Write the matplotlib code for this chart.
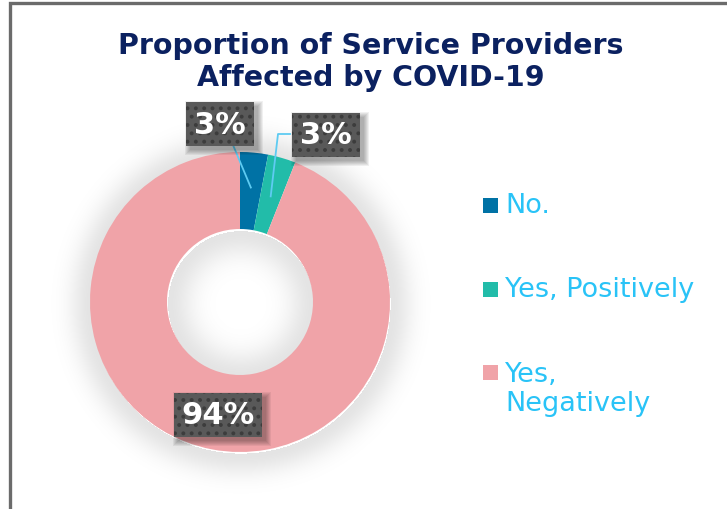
import matplotlib.pyplot as plt
import numpy as np
from matplotlib.patches import Rectangle

plt.rcParams["hatch.linewidth"] = 1.6

# data
categories = ["No.", "Yes, Positively", "Yes,\nNegatively"]
values = [3, 3, 94]
colors = ["#0072a5", "#22bca9", "#f0a3a8"]

W, H = 727, 510
fig = plt.figure(figsize=(W / 100, H / 100), dpi=100)
ax = fig.add_axes([0, 0, 1, 1])

cx, cy = 240, H - 303  # donut centre (pixel coords, y up)
R, r_in = 150, 73

# soft shadow around the ring and inside the hole
gx, gy = np.meshgrid(np.linspace(40, 440, 400), np.linspace(H - 500, H - 100, 400))
dist = np.hypot(gx - cx - 1, gy - cy + 2)
d_out = np.clip(dist - R, 0, None)
d_in = np.clip(r_in - dist, 0, None)
alpha = np.where(dist > R, 0.11 * np.exp(-(d_out / 22) ** 2), 0)
alpha = alpha + np.where(dist < r_in, 0.11 * np.exp(-(d_in / 26) ** 2), 0)
img = np.zeros((400, 400, 4))
img[..., 3] = alpha
ax.imshow(img, extent=(40, 440, H - 500, H - 100), origin="lower", zorder=0,
          interpolation="bilinear")

wedges, _ = ax.pie(values, colors=colors, startangle=90, counterclock=False,
                   radius=R, center=(cx, cy),
                   wedgeprops=dict(width=R - r_in, linewidth=0))
for w in wedges:
    w.set_zorder(2)

ax.set_xlim(0, W)
ax.set_ylim(0, H)
ax.set_aspect("equal")
ax.axis("off")

# data labels with leader lines
label_pos = [(220, H - 125), (326, H - 136), (218, H - 416)]
line_pts = [[(233, H - 146)], [(290, H - 135), (278, H - 135)], None]
cum = np.cumsum([0] + values)
labels = []
for i, v in enumerate(values):
    mid = np.deg2rad(90 - (cum[i] + v / 2) * 3.6)
    if line_pts[i] is not None:
        rr = 115 if i == 0 else 110
        end = (cx + rr * np.cos(mid), cy + rr * np.sin(mid))
        pts = line_pts[i] + [end]
        ax.plot([p[0] for p in pts], [p[1] for p in pts], color="#5ecbf2",
                lw=1.3, zorder=3)
    lx, ly = label_pos[i]
    t = ax.text(lx, ly, f"{v}%", ha="center", va="center", fontsize=22,
                fontweight="bold", color="white", zorder=5,
                bbox=dict(boxstyle="square,pad=0.25", fc="#595959", ec="#3c3c3c",
                          lw=0, hatch=".."))
    labels.append(t)

# blurred drop shadow under each label box
fig.canvas.draw()
inv = ax.transData.inverted()
for t in labels:
    bb = t.get_bbox_patch().get_window_extent().transformed(inv)
    for k in range(6):
        g = 5 - k
        ax.add_patch(Rectangle((bb.x0 + 4 - g, bb.y0 - 4 - g),
                               bb.width + 2 * g, bb.height + 2 * g,
                               fc="black", alpha=0.06, lw=0, zorder=4))

# legend
leg_y = [H - 206, H - 290, H - 373]
for name, col, y in zip(categories, colors, leg_y):
    ax.add_patch(Rectangle((483, y - 7.5), 15, 15, fc=col, lw=0, zorder=3))
    n = name.count("\n")
    ax.text(505, y - n * 16.5, name, ha="left", va="center", fontsize=19.5,
            color="#29c3f7", linespacing=1.12, zorder=3)

# title
ax.text(371, H - 62, "Proportion of Service Providers\nAffected by COVID-19",
        ha="center", va="center", fontsize=20.5, fontweight="bold",
        color="#0b2160", linespacing=1.2, zorder=3)

# chart border (left and top)
ax.plot([9.5, 9.5, W], [0, H - 3.5, H - 3.5], color="#6b6b6b", lw=2.4,
        solid_joinstyle="miter", zorder=6)

fig.savefig("out.png", dpi=100)
